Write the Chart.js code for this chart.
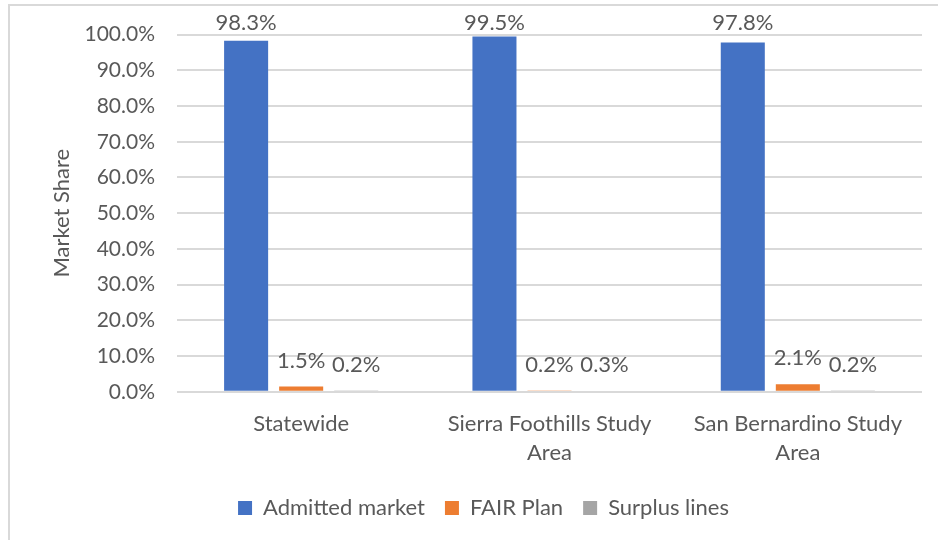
<!DOCTYPE html>
<html>
<head>
<meta charset="utf-8">
<script src="https://cdn.jsdelivr.net/npm/chart.js@4/dist/chart.umd.min.js"></script>
<style>
  html, body { margin: 0; padding: 0; background: #fff; }
  #wrap { position: relative; width: 938px; height: 540px; }
</style>
</head>
<body>
<div id="wrap"><canvas id="c" width="938" height="540"></canvas></div>
<script>
const categories = [["Statewide"], ["Sierra Foothills Study", "Area"], ["San Bernardino Study", "Area"]];
const admittedMarket = [98.3, 99.5, 97.8];
const fairPlan = [1.5, 0.2, 2.1];
const surplusLines = [0.2, 0.3, 0.2];
const seriesNames = ["Admitted market", "FAIR Plan", "Surplus lines"];
const yTicks = [0, 10, 20, 30, 40, 50, 60, 70, 80, 90, 100];

const FONT = "Lato, 'Open Sans', sans-serif";
const TEXT = "#595959";

const borderPlugin = {
  id: 'outerBorder',
  beforeDraw(chart) {
    const ctx = chart.ctx;
    ctx.save();
    ctx.strokeStyle = '#d9d9d9';
    ctx.lineWidth = 2;
    ctx.beginPath();
    ctx.moveTo(9, 540);
    ctx.lineTo(9, 5);
    ctx.lineTo(938, 5);
    ctx.stroke();
    ctx.restore();
  }
};

const labelPlugin = {
  id: 'dataLabels',
  afterDatasetsDraw(chart) {
    const ctx = chart.ctx;
    ctx.save();
    ctx.font = "22px " + FONT;
    ctx.fillStyle = TEXT;
    ctx.textAlign = 'center';
    ctx.textBaseline = 'bottom';
    chart.data.datasets.forEach((ds, i) => {
      const meta = chart.getDatasetMeta(i);
      meta.data.forEach((bar, j) => {
        const yb = Math.max(bar.y - 15, 34);
        ctx.fillText(ds.data[j].toFixed(1) + '%', bar.x, yb);
      });
    });
    ctx.restore();
  }
};

new Chart(document.getElementById('c'), {
  type: 'bar',
  data: {
    labels: categories,
    datasets: [
      { label: seriesNames[0], data: admittedMarket, backgroundColor: '#4472C4' },
      { label: seriesNames[1], data: fairPlan, backgroundColor: '#ED7D31' },
      { label: seriesNames[2], data: surplusLines, backgroundColor: '#A5A5A5' }
    ]
  },
  options: {
    responsive: false,
    animation: false,
    layout: { padding: { left: 45, right: 16, top: 24, bottom: 11 } },
    datasets: { bar: { categoryPercentage: 0.665, barPercentage: 0.8 } },
    plugins: {
      legend: {
        position: 'bottom',
        labels: {
          font: { family: FONT, size: 22 },
          color: TEXT,
          boxWidth: 14,
          boxHeight: 14,
          padding: 20
        }
      },
      tooltip: { enabled: false }
    },
    scales: {
      x: {
        grid: { display: false },
        border: { display: false },
        ticks: {
          font: { family: FONT, size: 22, lineHeight: 1.3 },
          color: TEXT,
          padding: 10,
          maxRotation: 0
        }
      },
      y: {
        min: 0,
        max: 100,
        afterBuildTicks(axis) { axis.ticks = yTicks.map(v => ({ value: v })); },
        afterFit(axis) { axis.width = 132; },
        grid: { color: '#d9d9d9', lineWidth: 2, drawTicks: false },
        border: { display: false },
        ticks: {
          font: { family: FONT, size: 21 },
          color: TEXT,
          padding: 22,
          callback: v => v.toFixed(1) + '%'
        },
        title: {
          display: true,
          text: 'Market Share',
          font: { family: FONT, size: 22 },
          color: TEXT
        }
      }
    }
  },
  plugins: [borderPlugin, labelPlugin]
});
</script>
</body>
</html>
